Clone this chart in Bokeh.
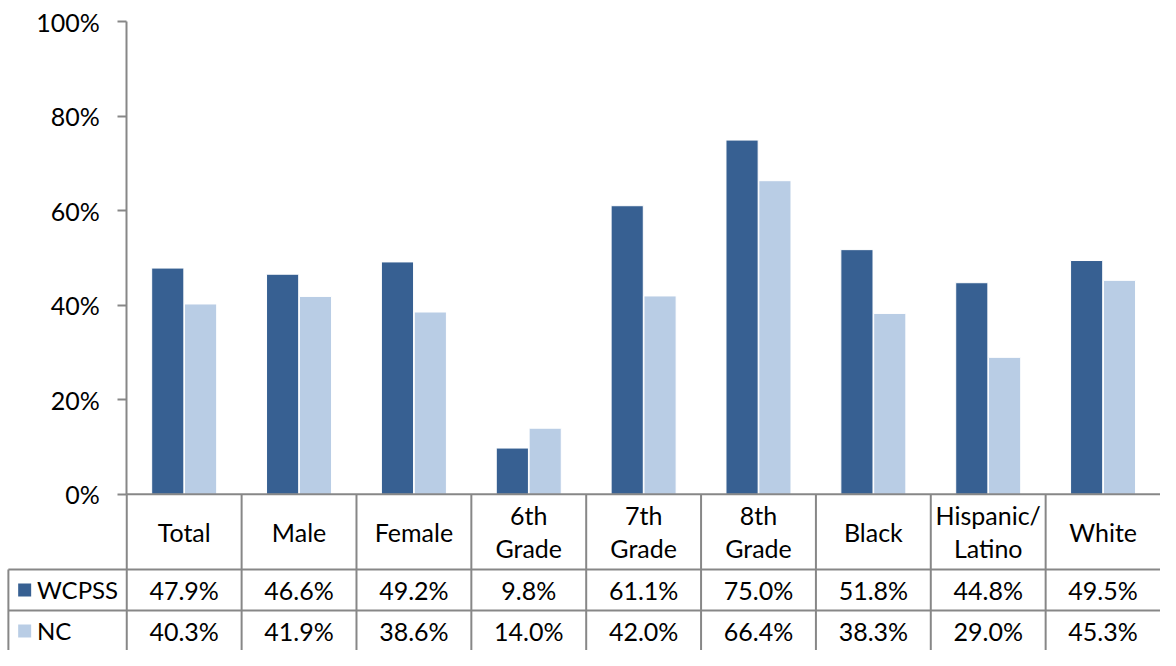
from bokeh.plotting import figure
from bokeh.models import ColumnDataSource, Range1d, FixedTicker
from bokeh.transform import dodge
from bokeh.core.properties import value
from bokeh.embed import file_html
from bokeh.resources import INLINE

# ---- data ----
categories = ["Total", "Male", "Female", "6th Grade", "7th Grade", "8th Grade",
              "Black", "Hispanic/ Latino", "White"]
header_labels = ["Total", "Male", "Female", "6th\nGrade", "7th\nGrade", "8th\nGrade",
                 "Black", "Hispanic/\nLatino", "White"]
wcpss = [47.9, 46.6, 49.2, 9.8, 61.1, 75.0, 51.8, 44.8, 49.5]
nc = [40.3, 41.9, 38.6, 14.0, 42.0, 66.4, 38.3, 29.0, 45.3]
series_names = ["WCPSS", "NC"]
series_colors = ["#376092", "#B9CDE5"]
y_ticks = [0, 20, 40, 60, 80, 100]
y_tick_labels = ["0%", "20%", "40%", "60%", "80%", "100%"]

# ---- layout constants (pixels) ----
W, H = 1160, 650
SX, SY = W / 1176, H / 666          # design grid -> figure pixels
AXIS_X = 128 * SX                   # y-axis position
TOP_PX = 22 * SY                    # 100% position
ZERO_PX = 506 * SY                  # 0% position
PX_PER_UNIT = (ZERO_PX - TOP_PX) / 100
HEADER_PX = 77 * SY
ROW_PX = 42 * SY
GRID = "#878787"
FONT = "Lato"
FS = "25px"

n = len(categories)
cat_w = (W - AXIS_X) / n
x_start = -AXIS_X / cat_w
y_top = ZERO_PX / PX_PER_UNIT
y_bottom = -(H - ZERO_PX) / PX_PER_UNIT


def at_x(px):          # absolute figure px -> data x
    return x_start + px / cat_w


def below_zero(px):    # px below the 0% line -> data y
    return -px / PX_PER_UNIT


xc = [i + 0.5 for i in range(n)]
src = ColumnDataSource(dict(
    xc=xc, cat=categories, header=header_labels, wcpss=wcpss, nc=nc,
    wl=[f"{v:.1f}%" for v in wcpss], nl=[f"{v:.1f}%" for v in nc],
))

p = figure(width=W, height=H, x_range=Range1d(x_start, n), y_range=Range1d(y_bottom, y_top),
           output_backend="svg", toolbar_location=None, min_border=0,
           outline_line_color=None, background_fill_color="white")
p.xaxis.visible = False
p.xgrid.visible = False
p.ygrid.visible = False

ax = p.yaxis[0]
ax.fixed_location = 0
ax.bounds = (0, 100)
ax.ticker = FixedTicker(ticks=y_ticks)
ax.major_label_overrides = {t: l for t, l in zip(y_ticks, y_tick_labels)}
ax.major_tick_out = 9
ax.major_tick_in = 0
ax.minor_tick_line_color = None
ax.axis_line_color = GRID
ax.axis_line_width = 2
ax.major_tick_line_color = GRID
ax.major_tick_line_width = 2
ax.major_label_standoff = 18
ax.major_label_text_font = FONT
ax.major_label_text_font_size = FS
ax.major_label_text_color = "black"

# bars
bw = 0.28
off = 0.143
p.vbar(x=dodge("xc", -off), top="wcpss", width=bw, bottom=0, source=src,
       fill_color=series_colors[0], line_color="white", line_width=1)
p.vbar(x=dodge("xc", off), top="nc", width=bw, bottom=0, source=src,
       fill_color=series_colors[1], line_color="white", line_width=1)

# table grid
y_h = below_zero(HEADER_PX)
y_r = below_zero(HEADER_PX + ROW_PX)
x_left = at_x(8 * SX)
bounds = list(range(n))
p.segment(x0=bounds, y0=[0] * n, x1=bounds, y1=[y_bottom] * n, line_color=GRID, line_width=2)
p.segment(x0=[0, x_left, x_left, x_left], y0=[0, y_h, y_r, y_h],
          x1=[n, n, n, x_left], y1=[0, y_h, y_r, y_bottom], line_color=GRID, line_width=2)

# header labels
p.text(x="xc", y=below_zero(HEADER_PX / 2), text="header", source=src,
       text_align="center", text_baseline="middle", text_font=value(FONT),
       text_font_size=FS, text_line_height=1.1, text_color="black")
# values
row_y = [below_zero(HEADER_PX + ROW_PX / 2), below_zero(140 * SY)]
p.text(x="xc", y=row_y[0], text="wl", source=src, text_align="center",
       text_baseline="middle", text_font=value(FONT), text_font_size=FS, text_color="black")
p.text(x="xc", y=row_y[1], text="nl", source=src, text_align="center",
       text_baseline="middle", text_font=value(FONT), text_font_size=FS, text_color="black")

# legend keys in the label column
key_x = at_x(24.5 * SX)
lab_x = at_x(37 * SX)
p.scatter(x=[key_x, key_x], y=row_y, marker="square", size=13,
          fill_color=series_colors, line_color=None)
p.text(x=[lab_x, lab_x], y=row_y, text=series_names, text_align="left",
       text_baseline="middle", text_font=value(FONT), text_font_size="24px", text_color="black")

open("out.html", "w").write(file_html(p, INLINE))
